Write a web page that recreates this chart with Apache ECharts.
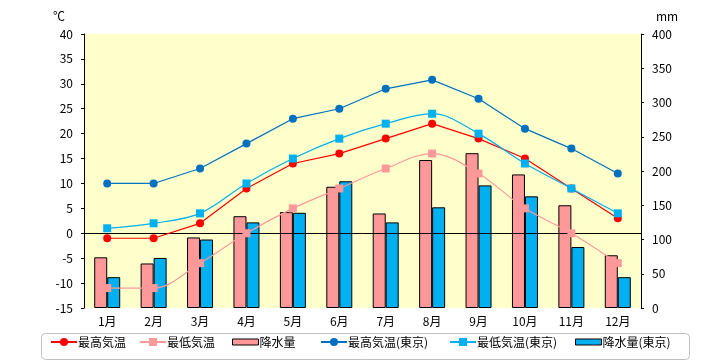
<!DOCTYPE html>
<html>
<head>
<meta charset="utf-8">
<script src="https://cdn.jsdelivr.net/npm/echarts@6/dist/echarts.min.js"></script>
<style>
html,body{margin:0;padding:0;background:#fff;}
#c{width:720px;height:360px;}
</style>
</head>
<body>
<div id="c"></div>
<script>
var months = ['1月','2月','3月','4月','5月','6月','7月','8月','9月','10月','11月','12月'];
var maxTemp = [-1, -1, 2, 9, 14, 16, 19, 22, 19, 15, 9, 3];
var minTemp = [-11, -11, -6, 0, 5, 9, 13, 16, 12, 5, 0, -6];
var rain = [74, 65, 103, 134, 140, 177, 138, 216, 226, 195, 150, 77];
var tokyoMax = [10, 10, 13, 18, 23, 25, 29, 30.8, 27, 21, 17, 12];
var tokyoMin = [1, 2, 4, 10, 15, 19, 22, 24, 20, 14, 9, 4];
var tokyoRain = [45, 73, 100, 125, 139, 185, 125, 147, 179, 163, 89, 45];
var tempTicks = {min: -15, max: 40, interval: 5};
var rainTicks = {min: 0, max: 400, interval: 50};

var FONT = "'Noto Sans CJK JP', 'Liberation Sans', sans-serif";
var chart = echarts.init(document.getElementById('c'), null, {renderer: 'canvas'});

function legendAt(name, left, h, icon) {
  var l = {
    data: [name], left: left, top: 336, itemWidth: 26, itemHeight: h, itemGap: 0,
    padding: 0, textStyle: {fontFamily: FONT, fontSize: 12, color: '#000', padding: [0, 0, 0, -4]}
  };
  if (icon) { l.icon = icon; l.itemStyle = {borderWidth: 1, borderColor: '#000'}; }
  return l;
}

var option = {
  animation: false,
  textStyle: {fontFamily: FONT},
  grid: {left: 84, right: 79, top: 34, bottom: 52, show: true, backgroundColor: '#FFFFCC', borderWidth: 0},
  graphic: [
    {type: 'rect', left: 39, top: 331, shape: {width: 648, height: 26, r: 4},
     style: {fill: 'none', stroke: '#BFBFBF', lineWidth: 1}, z: -1},
    {type: 'text', left: 53, top: 10, style: {text: '℃', font: '12px ' + FONT, fill: '#000'}},
    {type: 'text', left: 656, top: 10, style: {text: 'mm', font: '12px ' + FONT, fill: '#000'}}
  ],
  legend: [
    legendAt('最高気温', 50, 10),
    legendAt('最低気温', 139, 10),
    legendAt('降水量', 232, 6, 'rect'),
    legendAt('最高気温(東京)', 320, 10),
    legendAt('最低気温(東京)', 449, 10),
    legendAt('降水量(東京)', 575, 6, 'rect')
  ],
  xAxis: {
    type: 'category', data: months,
    axisLine: {show: false}, axisTick: {show: false},
    axisLabel: {color: '#000', fontSize: 12, margin: 7, fontFamily: FONT}
  },
  yAxis: [
    {type: 'value', min: tempTicks.min, max: tempTicks.max, interval: tempTicks.interval, position: 'left',
     axisLine: {show: true, lineStyle: {color: '#000', width: 1}},
     axisTick: {show: true, length: 3, lineStyle: {color: '#000'}},
     splitLine: {show: false},
     axisLabel: {color: '#000', fontSize: 12, margin: 11, fontFamily: FONT}},
    {type: 'value', min: rainTicks.min, max: rainTicks.max, interval: rainTicks.interval, position: 'right',
     axisLine: {show: true, lineStyle: {color: '#000', width: 1}},
     axisTick: {show: true, length: 3, lineStyle: {color: '#000'}},
     splitLine: {show: false},
     axisLabel: {color: '#000', fontSize: 12, margin: 11, fontFamily: FONT}}
  ],
  series: [
    {name: '降水量', type: 'bar', yAxisIndex: 1, data: rain, barWidth: 13, barGap: '0%',
     itemStyle: {color: '#FF9999', borderColor: '#000', borderWidth: 1}, z: 1},
    {name: '降水量(東京)', type: 'bar', yAxisIndex: 1, data: tokyoRain, barWidth: 13, barGap: '0%',
     itemStyle: {color: '#00B0F0', borderColor: '#000', borderWidth: 1}, z: 1},
    {name: '最高気温', type: 'line', yAxisIndex: 0, data: maxTemp, symbol: 'circle', symbolSize: 8,
     lineStyle: {color: '#FF0000', width: 1.2}, itemStyle: {color: '#FF0000'}, z: 5,
     markLine: {silent: true, symbol: 'none', label: {show: false},
       lineStyle: {color: '#000', width: 1, type: 'solid'}, data: [{yAxis: 0}], z: 3}},
    {name: '最低気温', type: 'line', yAxisIndex: 0, data: minTemp, symbol: 'rect', symbolSize: 8, smooth: 0.35,
     lineStyle: {color: '#FF9999', width: 1.2}, itemStyle: {color: '#FF9999'}, z: 5},
    {name: '最高気温(東京)', type: 'line', yAxisIndex: 0, data: tokyoMax, symbol: 'circle', symbolSize: 8,
     lineStyle: {color: '#0070C0', width: 1.2}, itemStyle: {color: '#0070C0'}, z: 5},
    {name: '最低気温(東京)', type: 'line', yAxisIndex: 0, data: tokyoMin, symbol: 'rect', symbolSize: 8, smooth: 0.35,
     lineStyle: {color: '#00B0F0', width: 1.2}, itemStyle: {color: '#00B0F0'}, z: 5}
  ]
};
chart.setOption(option);
</script>
</body>
</html>
